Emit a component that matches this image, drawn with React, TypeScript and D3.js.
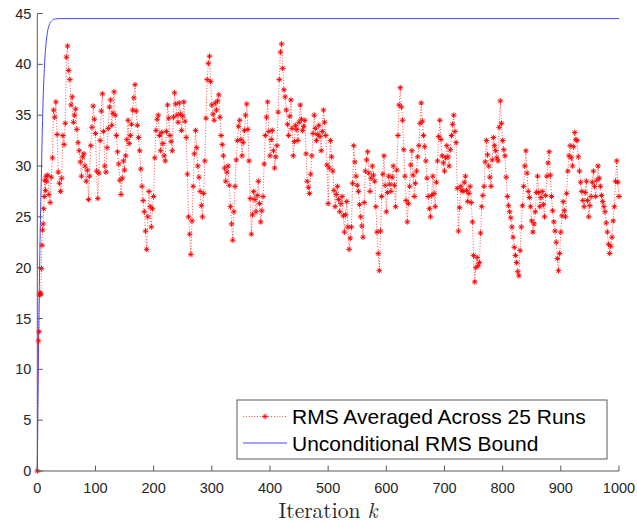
import React from "react";
import * as d3 from "d3";

// Early iterations (k = 0..15)
const earlyK = [0, 2, 3, 4, 5, 6, 7, 8, 9, 10, 11, 12, 13, 14, 15];
const earlyRms = [0, 12.8, 13.7, 17.3, 17.5, 17.4, 19.9, 22.2, 23.7, 24.3, 25.8, 27.0, 28.6, 27.6, 29.0];

// RMS averaged across 25 runs, read every 2 iterations from k = 16 to k = 1000
const rmsStart = 16;
const rmsStep = 2;
const rms016 = [
  28.5, 29.1, 27.2, 26.4, 28.9, 30.8, 35.5, 34.8, 36.3, 33.1, 29.4, 28.3, 27.5, 28.8, 33.0, 32.1, 34.2, 40.7, 41.8, 39.4, 38.5,
  36.0, 36.8, 34.3, 35.0, 35.6, 33.6, 32.3, 31.5, 30.4, 29.0, 30.9, 31.2, 30.0, 28.5, 29.6, 26.7, 29.0, 32.0, 33.8, 35.9, 34.6,
];
const rms100 = [
  33.2, 29.5, 26.8, 29.3, 32.5, 35.4, 37.1, 33.4, 30.0, 29.4, 31.8, 33.7, 35.8, 36.5, 34.0, 35.2, 37.3, 35.0, 33.0, 31.4,
  30.2, 28.6, 27.2, 28.8, 30.5, 29.6, 31.0, 32.6, 34.5, 32.2, 33.0, 34.1, 35.5, 36.7, 38.0, 35.4, 34.0, 32.8, 31.5, 29.7,
  28.0, 26.6, 25.5, 23.6, 21.8, 25.0, 27.5, 26.0, 24.0, 25.8,
];
const rms200 = [
  27.0, 30.8, 33.5, 34.6, 35.0, 33.0, 31.5, 33.3, 32.2, 31.0, 30.5, 33.4, 36.0, 34.7, 33.0, 32.4, 31.5, 34.8, 37.2, 36.1,
  35.0, 34.3, 36.2, 35.1, 33.5, 34.9, 36.3, 34.4, 32.8, 29.2, 25.0, 23.3, 21.3, 24.6, 28.0, 31.2, 33.5, 31.8, 30.0, 28.9,
  27.5, 26.1, 25.0, 27.3, 30.5, 34.7, 38.5, 40.1, 40.8, 38.3,
];
const rms300 = [
  36.0, 35.1, 34.5, 36.2, 35.5, 36.4, 37.0, 34.8, 33.0, 32.1, 31.0, 29.8, 28.5, 29.4, 30.0, 28.1, 26.0, 24.3, 22.7, 25.5,
  28.0, 30.6, 32.5, 33.9, 34.5, 32.6, 31.0, 32.3, 33.5, 35.0, 36.1, 33.6, 30.5, 26.8, 23.3, 25.2, 27.5, 26.7, 25.5, 27.1,
  28.5, 26.3, 24.5, 25.6, 27.0, 30.2, 33.0, 34.8, 36.3, 33.4,
];
const rms400 = [
  31.0, 32.6, 33.5, 31.5, 29.8, 30.9, 32.0, 35.3, 38.5, 41.2, 42.0, 39.6, 37.5, 36.8, 35.5, 34.1, 33.0, 34.9, 36.5, 33.7,
  31.0, 32.4, 34.0, 33.6, 32.5, 34.3, 36.0, 34.6, 33.5, 33.9, 34.5, 31.2, 28.5, 27.9, 27.3, 29.2, 31.0, 33.2, 35.0, 33.7,
  32.5, 33.1, 34.0, 32.9, 31.5, 33.4, 35.5, 34.3, 33.0, 30.1,
];
const rms500 = [
  26.3, 29.8, 32.5, 30.9, 29.5, 27.6, 26.0, 27.2, 28.0, 26.7, 25.5, 26.3, 27.0, 25.1, 23.5, 25.2, 26.5, 24.0, 21.8, 22.9,
  24.0, 28.3, 32.0, 30.4, 29.0, 28.1, 27.5, 26.2, 25.0, 24.1, 23.0, 26.4, 29.5, 30.6, 31.4, 29.3, 27.5, 28.8, 30.0, 29.1,
  28.5, 26.0, 23.5, 21.4, 19.7, 23.6, 27.0, 29.2, 31.0, 28.1,
];
const rms600 = [
  25.5, 27.4, 29.0, 28.2, 27.5, 28.9, 30.0, 28.1, 26.0, 29.6, 33.0, 36.0, 37.7, 35.8, 34.5, 31.6, 29.0, 26.6, 24.5, 26.3,
  28.0, 30.1, 31.5, 29.1, 27.0, 28.3, 29.5, 30.9, 32.0, 34.2, 36.2, 34.4, 33.0, 31.9, 30.5, 28.8, 27.0, 25.8, 25.0, 27.1,
  29.0, 27.3, 26.0, 28.4, 30.5, 32.9, 34.5, 32.6, 31.0, 30.3,
];
const rms700 = [
  29.5, 30.8, 32.0, 30.9, 30.0, 31.6, 33.0, 34.1, 35.0, 33.4, 32.3, 27.8, 23.6, 25.9, 28.0, 27.6, 27.5, 28.4, 29.0, 27.6,
  26.5, 27.3, 28.0, 26.4, 24.5, 21.2, 18.6, 20.0, 21.0, 20.2, 20.5, 23.4, 26.0, 27.1, 28.0, 30.4, 32.5, 31.1, 30.0, 28.9,
  28.0, 30.6, 32.8, 32.0, 31.5, 30.8, 30.5, 33.8, 36.4, 34.2,
];
const rms800 = [
  32.5, 31.6, 31.0, 28.9, 27.0, 26.1, 25.5, 24.9, 24.0, 23.0, 22.0, 21.2, 20.5, 19.6, 19.2, 21.7, 24.0, 26.1, 28.0, 30.0,
  31.5, 29.3, 27.5, 26.9, 26.0, 24.6, 23.5, 24.3, 25.5, 27.4, 29.0, 27.4, 26.0, 26.9, 27.5, 26.2, 25.0, 27.1, 29.0, 30.3,
  31.4, 29.1, 27.0, 25.6, 24.5, 23.6, 22.5, 20.9, 19.7, 21.4,
];
const rms900 = [
  23.5, 25.1, 26.5, 25.6, 25.0, 27.3, 29.5, 31.0, 32.0, 30.8, 30.0, 31.9, 33.3, 32.6, 32.5, 30.9, 29.5, 28.4, 27.5, 26.6,
  26.0, 27.4, 28.5, 26.6, 25.0, 26.1, 27.0, 28.4, 29.5, 28.0, 27.0, 28.6, 30.0, 28.8, 28.0, 27.1, 26.5, 26.0, 25.5, 24.4,
  23.5, 22.3, 21.4, 22.1, 23.0, 24.6, 26.0, 28.5, 30.5, 28.4, 27.0,
];

// Unconditional RMS bound
const boundK = [0, 1, 2, 3, 4, 5, 6, 7, 8, 10, 12, 15, 20, 25, 30, 40, 1000];
const boundV = [0, 6, 11.5, 16, 20, 23.5, 26.5, 29, 32, 36.5, 39.5, 42, 43.8, 44.3, 44.45, 44.5, 44.5];

const xTicks = [0, 100, 200, 300, 400, 500, 600, 700, 800, 900, 1000];
const yTicks = [0, 5, 10, 15, 20, 25, 30, 35, 40, 45];
const legendLabels = ["RMS Averaged Across 25 Runs", "Unconditional RMS Bound"];

const W = 637;
const H = 523;
const L = 37.3, R = 619, T = 13.5, B = 471;

export default function App() {
  const x = d3.scaleLinear().domain([0, 1000]).range([L, R]);
  const y = d3.scaleLinear().domain([0, 45]).range([B, T]);

  const rmsValues = [...rms016, ...rms100, ...rms200, ...rms300, ...rms400, ...rms500, ...rms600, ...rms700, ...rms800, ...rms900];
  const rmsPts: [number, number][] = [
    ...earlyK.map((k, i) => [k, earlyRms[i]] as [number, number]),
    ...rmsValues.map((v, i) => [rmsStart + i * rmsStep, v] as [number, number]),
  ];
  const boundPts: [number, number][] = boundK.map((k, i) => [k, boundV[i]]);

  const line = d3.line<[number, number]>().x((d) => x(d[0])).y((d) => y(d[1]));
  const smooth = d3
    .line<[number, number]>()
    .x((d) => x(d[0]))
    .y((d) => y(d[1]))
    .curve(d3.curveMonotoneX);

  const red = "#ff0000";
  const blue = "#4646ff";
  const axisColor = "#5a5a5a";
  const textColor = "#262626";
  const font = "'Liberation Sans', Arial, Helvetica, sans-serif";

  const star = (cx: number, cy: number, s: number) =>
    `M${cx - s},${cy}L${cx + s},${cy}M${cx},${cy - s}L${cx},${cy + s}` +
    `M${cx - s * 0.7},${cy - s * 0.7}L${cx + s * 0.7},${cy + s * 0.7}M${cx - s * 0.7},${cy + s * 0.7}L${cx + s * 0.7},${cy - s * 0.7}`;

  const markers = rmsPts.map((d) => star(x(d[0]), y(d[1]), 2.8)).join("");

  const legX = 237, legY = 400, legW = 370, legH = 59;
  const row1 = 416.5, row2 = 443;

  return (
    <svg
      width={W}
      height={H}
      style={{ position: "absolute", left: 0, top: 0, background: "#fff" }}
      xmlns="http://www.w3.org/2000/svg"
    >
      <rect x={0} y={0} width={W} height={H} fill="#fff" />
      <path d={smooth(boundPts) || ""} fill="none" stroke={blue} strokeWidth={1} />
      <path d={line(rmsPts) || ""} fill="none" stroke={red} strokeWidth={0.7} strokeDasharray="1,1.8" />
      <path d={markers} fill="none" stroke={red} strokeWidth={0.95} />

      <line x1={L} x2={L} y1={T} y2={B} stroke={axisColor} strokeWidth={1} />
      <line x1={L} x2={R} y1={B} y2={B} stroke={axisColor} strokeWidth={1} />
      {yTicks.map((t) => (
        <g key={"y" + t}>
          <line x1={L} x2={L + 5.5} y1={y(t)} y2={y(t)} stroke={axisColor} strokeWidth={1} />
          <text
            x={L - 6}
            y={y(t) + 5}
            textAnchor="end"
            fontFamily={font}
            fontSize={14.5}
            fill={textColor}
          >
            {t}
          </text>
        </g>
      ))}
      {xTicks.map((t) => (
        <g key={"x" + t}>
          <line x1={x(t)} x2={x(t)} y1={B} y2={B - 5.5} stroke={axisColor} strokeWidth={1} />
          <text
            x={x(t)}
            y={B + 21.5}
            textAnchor="middle"
            fontFamily={font}
            fontSize={14.5}
            fill={textColor}
          >
            {t}
          </text>
        </g>
      ))}
      <text
        x={328}
        y={518}
        textAnchor="middle"
        fontFamily="'Latin Modern Roman', 'CMU Serif', 'Liberation Serif', 'Times New Roman', serif"
        fontSize={21.5}
        fill={textColor}
      >
        Iteration <tspan fontStyle="italic">k</tspan>
      </text>

      <rect x={legX} y={legY} width={legW} height={legH} fill="#fff" stroke={axisColor} strokeWidth={1} />
      <line x1={243} x2={287} y1={row1} y2={row1} stroke={red} strokeWidth={0.7} strokeDasharray="1,1.8" />
      <path d={star(265, row1, 2.8)} fill="none" stroke={red} strokeWidth={0.95} />
      <line x1={243} x2={287} y1={row2} y2={row2} stroke={blue} strokeWidth={1} />
      {legendLabels.map((lab, i) => (
        <text
          key={lab}
          x={292}
          y={(i === 0 ? row1 : row2) + 7.5}
          fontFamily={font}
          fontSize={21}
          fill="#000"
        >
          {lab}
        </text>
      ))}
    </svg>
  );
}
